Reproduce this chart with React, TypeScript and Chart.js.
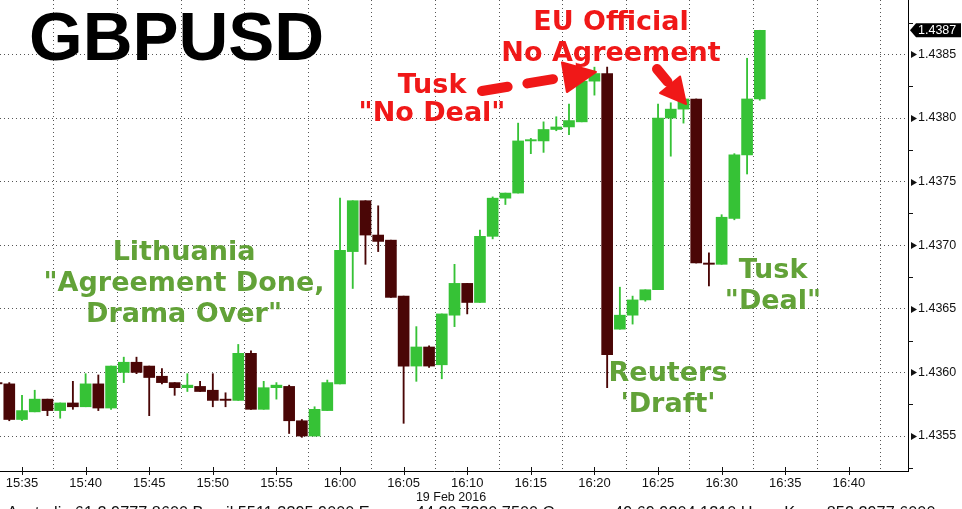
import React, { useEffect, useRef } from "react";
import { Chart, registerables } from "chart.js";

Chart.register(...registerables);

// ---- data ----
const times = [
  "15:33", "15:34", "15:35", "15:36", "15:37", "15:38", "15:39", "15:40", "15:41", "15:42",
  "15:43", "15:44", "15:45", "15:46", "15:47", "15:48", "15:49", "15:50", "15:51", "15:52",
  "15:53", "15:54", "15:55", "15:56", "15:57", "15:58", "15:59", "16:00", "16:01", "16:02",
  "16:03", "16:04", "16:05", "16:06", "16:07", "16:08", "16:09", "16:10", "16:11", "16:12",
  "16:13", "16:14", "16:15", "16:16", "16:17", "16:18", "16:19", "16:20", "16:21", "16:22",
  "16:23", "16:24", "16:25", "16:26", "16:27", "16:28", "16:29", "16:30", "16:31", "16:32",
  "16:33",
];
const opens = [
  1.43592, 1.43591, 1.43563, 1.43569, 1.43579, 1.4357, 1.43576, 1.43573, 1.43591, 1.43572,
  1.436, 1.43608, 1.43605, 1.43597, 1.43592, 1.43588, 1.43589, 1.43586, 1.43579, 1.43578,
  1.43615, 1.43571, 1.43588, 1.43589, 1.43562, 1.4355, 1.4357, 1.43591, 1.43695, 1.43735,
  1.43708, 1.43704, 1.4366, 1.43605, 1.4362, 1.43606, 1.43645, 1.4367, 1.43655, 1.43707,
  1.43737, 1.43741, 1.43782, 1.43782, 1.43791, 1.43793, 1.43797, 1.43829, 1.43835, 1.43634,
  1.43645, 1.43657, 1.43665, 1.438, 1.43807, 1.43815, 1.43686, 1.43685, 1.43721, 1.43771,
  1.43815,
];
const highs = [
  1.43593, 1.43592, 1.43582, 1.43586, 1.43579, 1.43576, 1.43593, 1.43599, 1.43598, 1.43605,
  1.43612, 1.43612, 1.43605, 1.43603, 1.43592, 1.43599, 1.43593, 1.43599, 1.43584, 1.43622,
  1.43617, 1.43593, 1.43592, 1.4359, 1.43563, 1.43573, 1.43594, 1.43737, 1.43735, 1.43735,
  1.43731, 1.43704, 1.4366, 1.43636, 1.43621, 1.43646, 1.43685, 1.4367, 1.43712, 1.43738,
  1.43741, 1.43796, 1.43784, 1.43797, 1.43801, 1.43811, 1.43832, 1.4384, 1.4384, 1.43667,
  1.4366, 1.43665, 1.43811, 1.43812, 1.43815, 1.43815, 1.43694, 1.43724, 1.43772, 1.43847,
  1.43869,
];
const lows = [
  1.4359, 1.43562, 1.43562, 1.43569, 1.43566, 1.43564, 1.43571, 1.43573, 1.4357, 1.43571,
  1.43592, 1.43599, 1.43566, 1.43591, 1.43582, 1.43585, 1.43585, 1.43573, 1.43573, 1.43578,
  1.43571, 1.43571, 1.43579, 1.43552, 1.43549, 1.4355, 1.4357, 1.43591, 1.43666, 1.43685,
  1.43695, 1.43659, 1.4356, 1.43593, 1.43604, 1.43595, 1.43636, 1.43646, 1.43655, 1.43705,
  1.43732, 1.43741, 1.43772, 1.43773, 1.4379, 1.43787, 1.43797, 1.43818, 1.43588, 1.43634,
  1.43638, 1.43656, 1.43665, 1.4377, 1.43796, 1.43686, 1.43668, 1.43685, 1.4372, 1.43756,
  1.43814,
];
const closes = [
  1.43591, 1.43563, 1.4357, 1.43579, 1.4357, 1.43576, 1.43573, 1.43591, 1.43572, 1.43605,
  1.43608, 1.436, 1.43596, 1.43592, 1.43588, 1.4359, 1.43585, 1.43578, 1.43578, 1.43615,
  1.43571, 1.43588, 1.4359, 1.43562, 1.4355, 1.43571, 1.43592, 1.43696, 1.43735, 1.43708,
  1.43703, 1.43659, 1.43605, 1.4362, 1.43605, 1.43646, 1.4367, 1.43655, 1.43707, 1.43737,
  1.43741, 1.43782, 1.43783, 1.43791, 1.43793, 1.43798, 1.43829, 1.43835, 1.43614, 1.43645,
  1.43657, 1.43665, 1.438, 1.43807, 1.43815, 1.43686, 1.43685, 1.43722, 1.43771, 1.43815,
  1.43869,
];
const xTickLabels = [
  "15:35", "15:40", "15:45", "15:50", "15:55", "16:00", "16:05",
  "16:10", "16:15", "16:20", "16:25", "16:30", "16:35", "16:40",
];
const yTickValues = [1.4355, 1.436, 1.4365, 1.437, 1.4375, 1.438, 1.4385];
const yMinorTicks = [1.43525, 1.43575, 1.43625, 1.43675, 1.43725, 1.43775, 1.43825, 1.43875];
const titleText = "GBPUSD";
const dateText = "19 Feb 2016";
const footerText =
  "Australia 61 2 9777 8600 Brazil 5511 3395 9000 Europe 44 20 7330 7500 Germany 49 69 9204 1210 Hong Kong 852 2977 6000";
const redNoteEU = ["EU Official", "No Agreement"];
const redNoteTusk = ["Tusk", "\"No Deal\""];
const greenNoteLith = ["Lithuania", "\"Agreement Done,", "Drama Over\""];
const greenNoteReuters = ["Reuters", "'Draft'"];
const greenNoteTusk = ["Tusk", "\"Deal\""];

// ---- helpers ----
const toMin = (s: string) => {
  const [h, m] = s.split(":").map(Number);
  return h * 60 + m;
};
const fmtMin = (v: number) => {
  const h = Math.floor(v / 60);
  const m = Math.round(v - h * 60);
  return `${h}:${m < 10 ? "0" : ""}${m}`;
};

const UP = "#36c236";
const DOWN = "#4a0606";
const RED = "#f01818";
const GREEN_TXT = "#62a238";

const zeroPad = (s: any) => {
  s.paddingTop = 0;
  s.paddingBottom = 0;
  s.paddingLeft = 0;
  s.paddingRight = 0;
};

const decorPlugin = {
  id: "decor",
  afterDraw(chart: any) {
    const ctx: CanvasRenderingContext2D = chart.ctx;
    const xs = chart.scales.x;
    const ys = chart.scales.y;
    const area = chart.chartArea;
    ctx.save();

    // y axis arrows at major ticks, short minor ticks
    ctx.fillStyle = "#111";
    yTickValues.forEach((v) => {
      const y = Math.round(ys.getPixelForValue(v));
      ctx.beginPath();
      ctx.moveTo(area.right + 3, y - 3);
      ctx.lineTo(area.right + 9, y + 0.5);
      ctx.lineTo(area.right + 3, y + 4);
      ctx.closePath();
      ctx.fill();
    });
    ctx.strokeStyle = "#111";
    ctx.lineWidth = 1;
    yMinorTicks.forEach((v) => {
      const y = Math.round(ys.getPixelForValue(v)) + 0.5;
      ctx.beginPath();
      ctx.moveTo(area.right, y);
      ctx.lineTo(area.right + 5, y);
      ctx.stroke();
    });
    // x tick marks crossing axis
    xTickLabels.forEach((l) => {
      const x = Math.round(xs.getPixelForValue(toMin(l))) + 0.5;
      ctx.beginPath();
      ctx.moveTo(x, area.bottom - 4);
      ctx.lineTo(x, area.bottom + 4);
      ctx.stroke();
    });

    // last price box
    const lastY = ys.getPixelForValue(closes[closes.length - 1]);
    ctx.fillStyle = "#000";
    ctx.beginPath();
    ctx.moveTo(area.right + 2, lastY);
    ctx.lineTo(area.right + 8, lastY - 7);
    ctx.lineTo(961, lastY - 7);
    ctx.lineTo(961, lastY + 7);
    ctx.lineTo(area.right + 8, lastY + 7);
    ctx.closePath();
    ctx.fill();
    ctx.fillStyle = "#fff";
    ctx.font = "12.5px 'Liberation Sans', Arial, sans-serif";
    ctx.textAlign = "left";
    ctx.textBaseline = "middle";
    ctx.fillText(closes[closes.length - 1].toFixed(4), area.right + 10, lastY + 0.5);

    // date and footer
    ctx.fillStyle = "#111";
    ctx.font = "12.5px 'Liberation Sans', Arial, sans-serif";
    ctx.textAlign = "center";
    ctx.textBaseline = "alphabetic";
    ctx.fillText(dateText, 451, 501);
    ctx.textAlign = "left";
    ctx.font = "16.3px 'Liberation Sans', Arial, sans-serif";
    ctx.fillText(footerText, 7, 518);

    // title
    ctx.fillStyle = "#000";
    ctx.font = "bold 69px 'Liberation Sans', Arial, sans-serif";
    ctx.fillText(titleText, 29, 60);

    // annotation texts
    const lines = (arr: string[], cx: number, base: number, step: number, color: string) => {
      ctx.fillStyle = color;
      ctx.font = "bold 27px 'DejaVu Sans', sans-serif";
      ctx.textAlign = "center";
      arr.forEach((t, i) => ctx.fillText(t, cx, base + i * step));
    };
    lines(redNoteEU, 611, 30, 31, RED);
    lines(redNoteTusk, 432, 93, 28, RED);
    lines(greenNoteLith, 184, 260, 31, GREEN_TXT);
    lines(greenNoteReuters, 668, 381, 31, GREEN_TXT);
    lines(greenNoteTusk, 773, 278, 31, GREEN_TXT);

    // arrows
    const arrow = (x0: number, y0: number, x1: number, y1: number, dashed: boolean, hl: number, hw: number) => {
      const dx = x1 - x0, dy = y1 - y0;
      const len = Math.hypot(dx, dy);
      const ux = dx / len, uy = dy / len;
      const bx = x1 - ux * hl, by = y1 - uy * hl;
      ctx.strokeStyle = RED;
      ctx.fillStyle = RED;
      ctx.lineWidth = 10;
      ctx.lineCap = "round";
      ctx.setLineDash(dashed ? [26, 20] : []);
      ctx.beginPath();
      ctx.moveTo(x0, y0);
      ctx.lineTo(bx - ux * 4, by - uy * 4);
      ctx.stroke();
      ctx.setLineDash([]);
      ctx.beginPath();
      ctx.lineJoin = "round";
      ctx.lineWidth = 2;
      ctx.moveTo(x1, y1);
      ctx.lineTo(bx - uy * hw, by + ux * hw);
      ctx.lineTo(bx + uy * hw, by - ux * hw);
      ctx.closePath();
      ctx.fill();
      ctx.stroke();
    };
    arrow(482, 91, 596, 72, true, 32, 15);
    arrow(657, 69, 686, 104, false, 25, 13);

    ctx.restore();
  },
};

export default function App() {
  const ref = useRef<HTMLCanvasElement>(null);
  useEffect(() => {
    const mins = times.map(toMin);
    const colors = opens.map((o, i) => (closes[i] >= o ? UP : DOWN));
    const chart = new Chart(ref.current!, {
      type: "bar",
      data: {
        datasets: [
          {
            label: "wick",
            data: mins.map((x, i) => ({ x, y: [lows[i], highs[i]] })) as any,
            backgroundColor: colors,
            barThickness: 1.2,
            grouped: false,
            order: 2,
            borderWidth: 0,
          } as any,
          {
            label: "body",
            data: mins.map((x, i) => ({ x, y: [opens[i], closes[i]] })) as any,
            backgroundColor: colors,
            barThickness: 11,
            grouped: false,
            order: 1,
            borderWidth: 0,
          } as any,
        ],
      },
      options: {
        responsive: false,
        devicePixelRatio: 1,
        animation: false,
        events: [],
        layout: { padding: 0 },
        plugins: { legend: { display: false }, tooltip: { enabled: false } },
        scales: {
          x: {
            type: "linear",
            min: 933.27,
            max: 1004.65,
            offset: false,
            afterBuildTicks: (s: any) => {
              s.ticks = xTickLabels.map((l) => ({ value: toMin(l) }));
            },
            afterFit: (s: any) => {
              s.height = 38;
              zeroPad(s);
            },
            ticks: {
              autoSkip: false,
              maxRotation: 0,
              padding: 5,
              color: "#111",
              font: { family: "'Liberation Sans', Arial, sans-serif", size: 13 },
              callback: (v: any) => fmtMin(Number(v)),
            },
            grid: { display: true, color: "#555", lineWidth: 1, drawTicks: false },
            border: { display: true, color: "#000", width: 1, dash: [1, 3] },
          },
          y: {
            type: "linear",
            position: "right",
            min: 1.435225,
            max: 1.438928,
            afterBuildTicks: (s: any) => {
              s.ticks = yTickValues.map((v) => ({ value: v }));
            },
            afterFit: (s: any) => {
              s.width = 54;
              zeroPad(s);
            },
            ticks: {
              padding: 10,
              color: "#111",
              font: { family: "'Liberation Sans', Arial, sans-serif", size: 12.5 },
              callback: (v: any) => Number(v).toFixed(4),
            },
            grid: { display: true, color: "#555", lineWidth: 1, drawTicks: false },
            border: { display: true, color: "#000", width: 1, dash: [1, 3] },
          },
        },
      } as any,
      plugins: [decorPlugin],
    });
    return () => chart.destroy();
  }, []);
  return (
    <div style={{ position: "fixed", left: 0, top: 0, width: 962, height: 509, background: "#fff", overflow: "hidden" }}>
      <canvas ref={ref} width={962} height={509} style={{ display: "block", width: 962, height: 509 }} />
    </div>
  );
}
